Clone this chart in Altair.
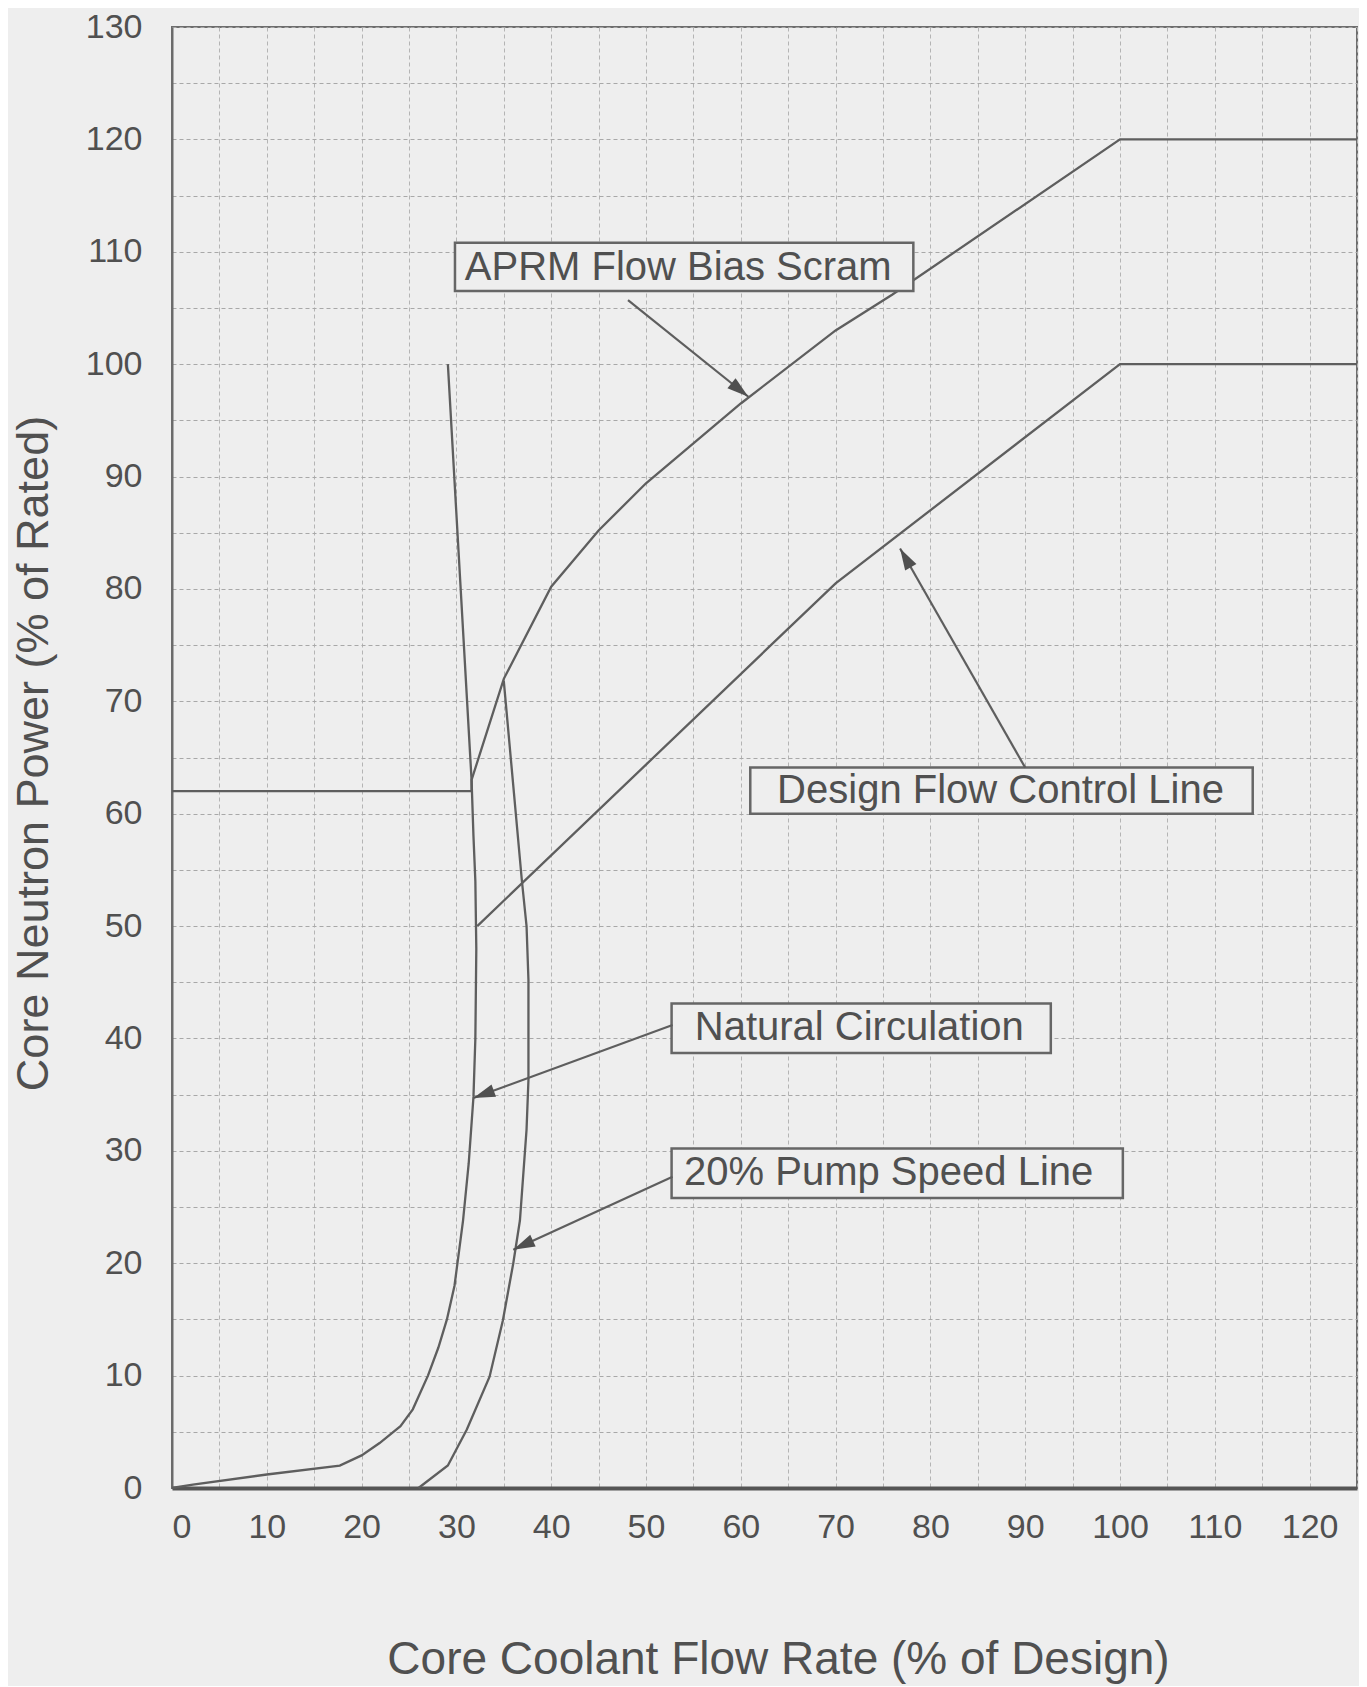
import math
import altair as alt
import pandas as pd

# ---------------- data ----------------
x_label_values = list(range(0, 121, 10))
y_label_values = list(range(0, 131, 10))
grid_x_values = list(range(0, 126, 5))
grid_y_values = list(range(0, 131, 5))

aprm_x = [0, 31.6, 31.6, 35.0, 40, 45, 50, 60, 70, 76, 100, 125]
aprm_y = [62, 62, 63, 72, 80.2, 85.2, 89.4, 96.5, 103, 106.2, 120, 120]

design_x = [32.2, 70, 100, 125]
design_y = [50, 80.5, 100, 100]

natural_x = [0, 2.2, 10, 17.7, 20, 21.9, 24.1, 25.4, 27.0, 28.1, 29.0, 29.8,
             30.7, 31.3, 31.8, 32.0, 32.1, 32.0, 31.8, 31.6, 29.1]
natural_y = [0, 0.3, 1.2, 2.0, 2.9, 4.0, 5.5, 7.0, 10.0, 12.5, 15.0, 18.0,
             23.8, 28.9, 34.8, 40, 48, 54, 58, 63, 100]

pump_x = [26.0, 29.1, 31.1, 33.5, 34.9, 36.0, 36.7, 37.4, 37.6, 37.6, 37.4, 36.9, 35.0]
pump_y = [0, 2.0, 5.2, 9.9, 14.9, 20.0, 23.8, 31.9, 36.3, 45.2, 50, 54.1, 71.8]

label_text = ["APRM Flow Bias Scram", "Design Flow Control Line",
              "Natural Circulation", "20% Pump Speed Line"]
box_x1 = [29.85, 61.0, 52.7, 52.7]
box_x2 = [78.2, 114.0, 92.7, 100.3]
box_y1 = [106.5, 60.0, 38.7, 25.8]
box_y2 = [110.8, 64.1, 43.1, 30.2]
text_x = [53.4, 87.4, 72.5, 75.6]
text_y = [108.6, 62.0, 40.9, 28.0]

arrow_x1 = [48.1, 90.0, 52.8, 52.8]
arrow_y1 = [105.7, 64.1, 41.2, 27.7]
arrow_x2 = [60.8, 76.8, 31.8, 36.0]
arrow_y2 = [97.1, 83.6, 34.7, 21.2]

# ---------------- styling ----------------
PLOT_W, PLOT_H = 1185, 1461
X_MAX, Y_MAX = 125, 130
BG = "#eeeeee"
INK = "#5e5e5e"
TEXT = "#505050"
FONT = "Liberation Sans"

xscale = alt.Scale(domain=[0, X_MAX], nice=False, zero=False)
yscale = alt.Scale(domain=[0, Y_MAX], nice=False, zero=False)

xaxis = alt.Axis(
    values=grid_x_values,
    labelExpr="datum.value % 10 == 0 && datum.value <= 120 ? datum.label : ''",
    grid=True, gridColor="#b4b4b4", gridDash=[4, 3], gridWidth=1,
    ticks=False, labelPadding=22, labelFontSize=34, labelColor=TEXT, labelFont=FONT,
    domainColor="#555555", domainWidth=4,
    title="Core Coolant Flow Rate (% of Design)", titleFontSize=46,
    titleFont=FONT, titleColor=TEXT, titleFontWeight="normal",
    titleBaseline="middle", titleY=171, titleX=606,
)
yaxis = alt.Axis(
    values=grid_y_values,
    labelExpr="datum.value % 10 == 0 ? datum.label : ''",
    grid=True, gridColor="#a8a8a8", gridDash=[4, 3], gridWidth=1,
    ticks=False, labelPadding=30, labelFontSize=34, labelColor=TEXT, labelFont=FONT,
    domainColor="#6a6a6a", domainWidth=2,
    title="Core Neutron Power (% of Rated)", titleFontSize=45,
    titleFont=FONT, titleColor=TEXT, titleFontWeight="normal",
    titleBaseline="middle", titleX=-139, titleY=726, titleAngle=270,
)


def X(field):
    return alt.X(field, type="quantitative", scale=xscale, axis=xaxis)


def Y(field):
    return alt.Y(field, type="quantitative", scale=yscale, axis=yaxis)


def line_df(xs, ys):
    return pd.DataFrame({"x": xs, "y": ys, "order": list(range(len(xs)))})


curves = [
    (aprm_x, aprm_y),
    (design_x, design_y),
    (natural_x, natural_y),
    (pump_x, pump_y),
]

layers = []
for xs, ys in curves:
    layers.append(
        alt.Chart(line_df(xs, ys))
        .mark_line(color=INK, strokeWidth=2.3)
        .encode(x=X("x"), y=Y("y"), order="order:Q")
    )

boxes = pd.DataFrame({"x1": box_x1, "x2": box_x2, "y1": box_y1, "y2": box_y2})
layers.append(
    alt.Chart(boxes)
    .mark_rect(fill=BG, stroke="#666666", strokeWidth=2.5)
    .encode(x=X("x1"), x2="x2", y=Y("y1"), y2="y2")
)

texts = pd.DataFrame({"x": text_x, "y": text_y, "t": label_text})
layers.append(
    alt.Chart(texts)
    .mark_text(font=FONT, fontSize=40, color=TEXT, align="center", baseline="middle")
    .encode(x=X("x"), y=Y("y"), text="t:N")
)

px_x = PLOT_W / X_MAX
px_y = PLOT_H / Y_MAX
angles = []
for sx, sy, tx, ty in zip(arrow_x1, arrow_y1, arrow_x2, arrow_y2):
    dx = (tx - sx) * px_x
    dys = -(ty - sy) * px_y
    angles.append(math.degrees(math.atan2(dx, -dys)) % 360)

arrows = pd.DataFrame({"x1": arrow_x1, "y1": arrow_y1, "x2": arrow_x2,
                       "y2": arrow_y2, "angle": angles})
layers.append(
    alt.Chart(arrows)
    .mark_rule(color=INK, strokeWidth=2.2)
    .encode(x=X("x1"), y=Y("y1"), x2="x2", y2="y2")
)
layers.append(
    alt.Chart(arrows)
    .mark_point(shape="M0,0 L-0.36,1.2 L0.36,1.2 Z", filled=True, size=1300,
                color="#505050", opacity=1)
    .encode(x=X("x2"), y=Y("y2"), angle=alt.Angle("angle:Q", scale=None))
)

chart = (
    alt.layer(*layers)
    .properties(
        width=PLOT_W, height=PLOT_H, background=BG,
        padding={"left": 164, "top": 19, "right": 2, "bottom": 198},
        autosize=alt.AutoSizeParams(type="none"),
    )
    .configure_view(stroke="#6d6d6d", strokeWidth=2)
)

chart.save("out.html", embed_options={"renderer": "svg", "actions": False})
